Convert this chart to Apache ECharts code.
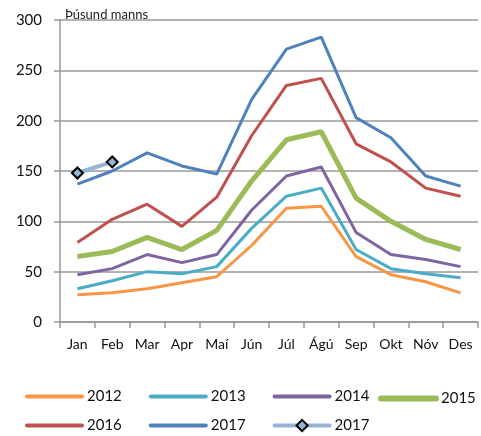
<!DOCTYPE html>
<html>
<head>
<meta charset="utf-8">
<script src="https://cdn.jsdelivr.net/npm/echarts@6/dist/echarts.min.js"></script>
<style>
  html, body { margin: 0; padding: 0; background: #fff; }
  #chart { width: 481px; height: 436px; }
</style>
</head>
<body>
<div id="chart"></div>
<script>
var months = ["Jan", "Feb", "Mar", "Apr", "Maí", "Jún", "Júl", "Ágú", "Sep", "Okt", "Nóv", "Des"];
var y2012 = [27, 29, 33, 39, 45, 76, 113, 115, 65, 47, 40, 29];
var y2013 = [33, 41, 50, 48, 55, 93, 125, 133, 72, 53, 48, 44];
var y2014 = [47, 53, 67, 59, 67, 111, 145, 154, 89, 67, 62, 55];
var y2015 = [65, 70, 84, 72, 91, 140, 181, 189, 123, 100, 82, 72];
var y2016 = [79, 102, 117, 95, 124, 185, 235, 242, 177, 159, 133, 125];
var y2017 = [137, 150, 168, 155, 147, 221, 271, 283, 203, 183, 145, 135];
var y2017b = [148, 159];

(function() {
  var myChart = echarts.init(document.getElementById("chart"));
  var font = "Lato";

  function line(name, data, color, width) {
    return {
      name: name,
      type: "line",
      data: data,
      symbol: "none",
      lineStyle: { color: color, width: width },
      itemStyle: { color: color },
      animation: false
    };
  }

  // legend entries: plain lines hide the symbol, the last keeps its diamond
  function plain(name, w) {
    return { name: name, itemStyle: { opacity: 0 }, lineStyle: { width: w || 4, cap: "round" } };
  }

  var legendBase = {
    left: 20,
    itemWidth: 55, itemHeight: 14, itemGap: 27,
    textStyle: { fontSize: 15, color: "#111", width: 33 }
  };

  var option = {
    textStyle: { fontFamily: font },
    title: {
      text: "Þúsund manns",
      left: 60,
      top: 3,
      textStyle: { fontSize: 13, fontWeight: "normal", color: "#222", fontFamily: font }
    },
    grid: { left: 60, right: 3, top: 20, bottom: 114 },
    legend: [
      Object.assign({}, legendBase, {
        top: 384,
        data: [plain("2012"), plain("2013"), plain("2014")]
      }),
      Object.assign({}, legendBase, {
        left: 373, top: 386,
        data: [plain("2015", 6)]
      }),
      Object.assign({}, legendBase, {
        top: 413,
        data: [plain("2016"), plain("2017"), { name: "2017 ", lineStyle: { width: 4, cap: "round" } }]
      })
    ],
    xAxis: {
      type: "category",
      data: months,
      boundaryGap: true,
      axisLine: { lineStyle: { color: "#999", width: 1.5 } },
      axisTick: { show: true, length: 6, lineStyle: { color: "#999", width: 1.5 } },
      axisLabel: { fontSize: 14, color: "#111", margin: 15, interval: 0 }
    },
    yAxis: {
      type: "value",
      min: 0, max: 300, interval: 50,
      axisLine: { show: true, lineStyle: { color: "#999", width: 1.5 } },
      axisTick: { show: true, length: 6, lineStyle: { color: "#999", width: 1.5 } },
      axisLabel: { fontSize: 15, color: "#111", margin: 18 },
      splitLine: { lineStyle: { color: "#999", width: 1.5 } }
    },
    series: [
      line("2012", y2012, "#F79646", 3),
      line("2013", y2013, "#4BACC6", 3),
      line("2014", y2014, "#8064A2", 3),
      line("2015", y2015, "#9BBB59", 5),
      line("2016", y2016, "#C0504D", 3),
      line("2017", y2017, "#4F81BD", 3),
      {
        name: "2017 ",
        type: "line",
        data: y2017b,
        symbol: "diamond",
        symbolSize: 11,
        lineStyle: { color: "#95B3D7", width: 4 },
        itemStyle: { color: "#95B3D7", borderColor: "#000", borderWidth: 2 },
        animation: false,
        z: 5
      }
    ]
  };

  myChart.setOption(option);
})();
</script>
</body>
</html>
